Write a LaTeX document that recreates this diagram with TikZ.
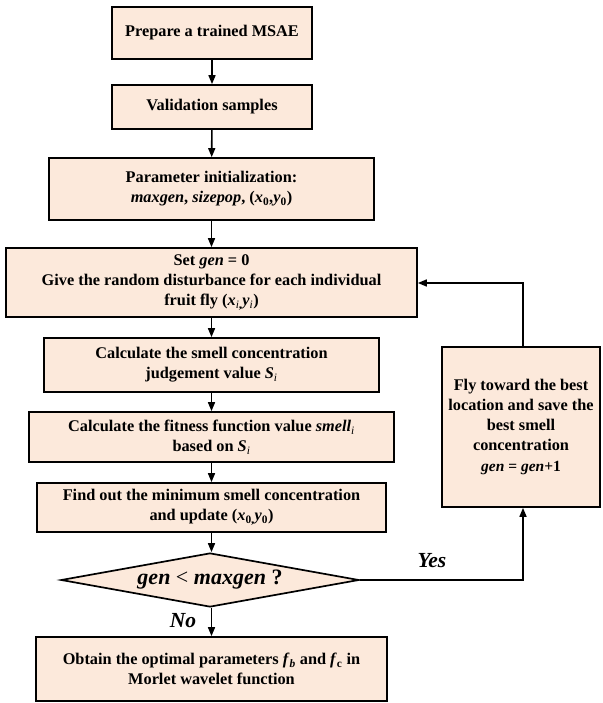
\documentclass[tikz,border=0pt]{standalone}
\usepackage{fontspec}
\setmainfont{Liberation Serif}
\usetikzlibrary{arrows.meta,shapes.geometric}
\definecolor{peach}{RGB}{252,233,219}
\begin{document}
\begin{tikzpicture}[x=1pt,y=-1pt,
  box/.style={draw=black,fill=peach,line width=1.7pt,inner sep=0pt,align=center,
    font=\fontsize{16.3}{20}\selectfont\bfseries},
  dec/.style={draw=black,fill=peach,line width=1.7pt,diamond,inner sep=0pt,
    minimum width=298pt,minimum height=54pt,aspect=5.5,
    font=\fontsize{22}{24}\selectfont\bfseries\itshape},
  conn/.style={line width=1.6pt,-{Triangle[length=9pt,width=7pt]}},
  lbl/.style={font=\fontsize{21.5}{24}\selectfont\bfseries\itshape,inner sep=0pt}]
\useasboundingbox (0,0) rectangle (602,703);
\node[box,minimum width=200pt,minimum height=52pt] (b1) at (212,33) {Prepare a trained MSAE};
\node[box,minimum width=200pt,minimum height=44pt] (b2) at (212,107) {Validation samples};
\node[box,minimum width=325pt,minimum height=62pt] (b3) at (211.5,189)
  {Parameter initialization:\\ \textit{maxgen}, \textit{sizepop}, (\textit{x}\textsubscript{0},\textit{y}\textsubscript{0})};
\node[box,minimum width=411pt,minimum height=69pt] (b4) at (211.5,282.5)
  {Set \textit{gen} = 0\\ Give the random disturbance for each individual\\ fruit fly (\textit{x}\textsubscript{\textit{\mdseries i},}\textit{y}\textsubscript{\textit{\mdseries i}})};
\node[box,minimum width=335pt,minimum height=54pt] (b5) at (211.5,365)
  {Calculate the smell concentration\\ judgement value \textit{S}\textsubscript{\textit{\mdseries i}}};
\node[box,minimum width=365pt,minimum height=50pt] (b6) at (211.5,437)
  {Calculate the fitness function value \textit{smell}\textsubscript{\textit{\mdseries i}}\\ based on \textit{S}\textsubscript{\textit{\mdseries i}}};
\node[box,minimum width=349pt,minimum height=49pt] (b7) at (211.5,507.5)
  {Find out the minimum smell concentration\\ and update (\textit{x}\textsubscript{0,}\textit{y}\textsubscript{0})};
\node[dec] (d) at (210,580) {gen {\upshape\mdseries<} maxgen {\upshape ?}};
\node[box,minimum width=351pt,minimum height=64pt] (b8) at (211.5,669)
  {Obtain the optimal parameters \textit{f}\textsubscript{\textit{b}} and \textit{f}\textsubscript{c} in\\ Morlet wavelet function};
\node[box,minimum width=158pt,minimum height=160pt] (r) at (521,427)
  {Fly toward the best\\ location and save the\\ best smell\\ concentration\\[1pt] {\fontsize{15.5}{18}\selectfont\textit{gen} = \textit{gen}+1}};
\coordinate (c1) at (523,580);
\coordinate (c2) at (523,283);
\draw[conn] (b1) -- (b2);
\draw[conn] (b2) -- (b3);
\draw[conn] (b3) -- (b4);
\draw[conn] (b4.south -| b5.north) -- (b5);
\draw[conn] (b5) -- (b6);
\draw[conn] (b6) -- (b7);
\draw[conn] (b7.south) -- (b7.south |- d.north);
\draw[conn] (b7.south |- d.south) -- (b8.north -| b7.south);
\draw[conn] (d.east) -- (c1) -- (c1 |- r.south);
\draw[conn] (c2 |- r.north) -- (c2) -- (b4.east |- c2);
\node[lbl] (no) at (183,621) {No};
\node[lbl] (yes) at (432,561) {Yes};
\end{tikzpicture}
\end{document}
